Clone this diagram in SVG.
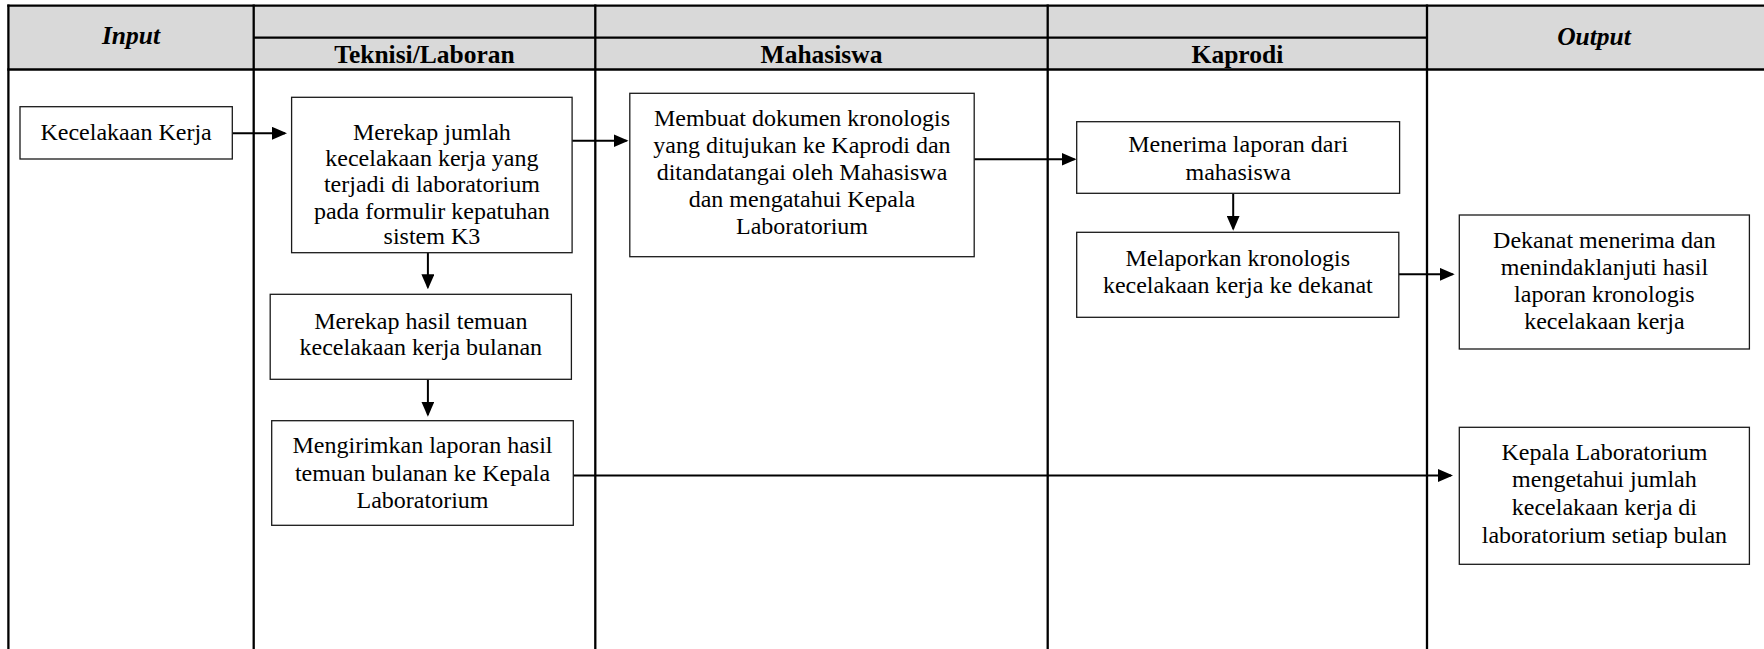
<svg xmlns="http://www.w3.org/2000/svg" width="1764" height="649" viewBox="0 0 1764 649">
  <style>
    .grid { stroke: #000; stroke-width: 2.3; fill: none; }
    .box { fill: #fff; stroke: #1a1a1a; stroke-width: 1.3; }
    .t { font-family: "Liberation Serif", "Times New Roman", serif; font-size: 24px; fill: #000; text-anchor: middle; }
    .h { font-family: "Liberation Serif", "Times New Roman", serif; font-size: 25.5px; font-weight: bold; fill: #000; text-anchor: middle; }
    .hi { font-style: italic; }
    .conn { stroke: #000; stroke-width: 2; fill: none; marker-end: url(#arr); }
  </style>
  <defs>
    <marker id="arr" markerUnits="userSpaceOnUse" markerWidth="15" markerHeight="13" refX="13" refY="6.5" orient="auto">
      <path d="M0,0 L15,6.5 L0,13 Z" fill="#000"/>
    </marker>
  </defs>
  <rect width="1764" height="649" fill="#fff"/>

  <g id="table">
    <rect x="8.4" y="5.7" width="1755.6" height="63.8" fill="#d9d9d9"/>
    <line class="grid" x1="7.3" y1="5.7" x2="1764" y2="5.7"/>
    <line class="grid" x1="253.7" y1="37.7" x2="1427" y2="37.7"/>
    <line class="grid" x1="7.3" y1="69.5" x2="1764" y2="69.5"/>
    <line class="grid" x1="8.4" y1="4.6" x2="8.4" y2="649"/>
    <line class="grid" x1="253.7" y1="4.6" x2="253.7" y2="649"/>
    <line class="grid" x1="595.3" y1="4.6" x2="595.3" y2="649"/>
    <line class="grid" x1="1047.7" y1="4.6" x2="1047.7" y2="649"/>
    <line class="grid" x1="1427" y1="4.6" x2="1427" y2="649"/>
    <text class="h hi" x="131" y="44">Input</text>
    <text class="h" x="424.5" y="63">Teknisi/Laboran</text>
    <text class="h" x="821.5" y="63">Mahasiswa</text>
    <text class="h" x="1237.4" y="63">Kaprodi</text>
    <text class="h hi" x="1594" y="45">Output</text>
  </g>

  <g id="connectors">
    <line class="conn" x1="232.3" y1="133.3" x2="285" y2="133.3"/>
    <line class="conn" x1="572.1" y1="140.7" x2="626.5" y2="140.7"/>
    <line class="conn" x1="427.9" y1="252.7" x2="427.9" y2="287.3"/>
    <line class="conn" x1="427.9" y1="379.3" x2="427.9" y2="414.7"/>
    <line class="conn" x1="974.2" y1="159.3" x2="1074.5" y2="159.3"/>
    <line class="conn" x1="1233.2" y1="193.3" x2="1233.2" y2="228.7"/>
    <line class="conn" x1="1398.8" y1="274.3" x2="1452.7" y2="274.3"/>
    <line class="conn" x1="573.3" y1="475.5" x2="1451" y2="475.5"/>
  </g>

  <g id="n-kecelakaan">
    <rect class="box" x="20" y="106.7" width="212.3" height="52.3"/>
    <text class="t" x="126.1" y="140">Kecelakaan Kerja</text>
  </g>

  <g id="n-merekap-jumlah">
    <rect class="box" x="291.6" y="97.3" width="280.5" height="155.4"/>
    <text class="t" x="431.9" y="140">Merekap jumlah</text>
    <text class="t" x="431.9" y="166">kecelakaan kerja yang</text>
    <text class="t" x="431.9" y="192.3">terjadi di laboratorium</text>
    <text class="t" x="431.9" y="218.5">pada formulir kepatuhan</text>
    <text class="t" x="431.9" y="244">sistem K3</text>
  </g>

  <g id="n-merekap-hasil">
    <rect class="box" x="270.2" y="294.3" width="301.2" height="85"/>
    <text class="t" x="420.8" y="328.5">Merekap hasil temuan</text>
    <text class="t" x="420.8" y="355">kecelakaan kerja bulanan</text>
  </g>

  <g id="n-mengirimkan">
    <rect class="box" x="271.7" y="420.7" width="301.6" height="104.6"/>
    <text class="t" x="422.5" y="452.7">Mengirimkan laporan hasil</text>
    <text class="t" x="422.5" y="480.7">temuan bulanan ke Kepala</text>
    <text class="t" x="422.5" y="508.3">Laboratorium</text>
  </g>

  <g id="n-membuat">
    <rect class="box" x="629.8" y="93.3" width="344.4" height="163.4"/>
    <text class="t" x="802" y="126">Membuat dokumen kronologis</text>
    <text class="t" x="802" y="153">yang ditujukan ke Kaprodi dan</text>
    <text class="t" x="802" y="180">ditandatangai oleh Mahasiswa</text>
    <text class="t" x="802" y="207">dan mengatahui Kepala</text>
    <text class="t" x="802" y="234">Laboratorium</text>
  </g>

  <g id="n-menerima">
    <rect class="box" x="1076.7" y="121.7" width="322.9" height="71.6"/>
    <text class="t" x="1238.2" y="152">Menerima laporan dari</text>
    <text class="t" x="1238.2" y="179.5">mahasiswa</text>
  </g>

  <g id="n-melaporkan">
    <rect class="box" x="1076.7" y="232.3" width="322.1" height="85"/>
    <text class="t" x="1237.8" y="266">Melaporkan kronologis</text>
    <text class="t" x="1237.8" y="293">kecelakaan kerja ke dekanat</text>
  </g>

  <g id="n-dekanat">
    <rect class="box" x="1459.3" y="215" width="290.1" height="134"/>
    <text class="t" x="1604.4" y="248.3">Dekanat menerima dan</text>
    <text class="t" x="1604.4" y="275">menindaklanjuti hasil</text>
    <text class="t" x="1604.4" y="301.7">laporan kronologis</text>
    <text class="t" x="1604.4" y="329.3">kecelakaan kerja</text>
  </g>

  <g id="n-kepala">
    <rect class="box" x="1459.3" y="427.3" width="290.1" height="137"/>
    <text class="t" x="1604.4" y="460">Kepala Laboratorium</text>
    <text class="t" x="1604.4" y="487.3">mengetahui jumlah</text>
    <text class="t" x="1604.4" y="515">kecelakaan kerja di</text>
    <text class="t" x="1604.4" y="542.7">laboratorium setiap bulan</text>
  </g>
</svg>
